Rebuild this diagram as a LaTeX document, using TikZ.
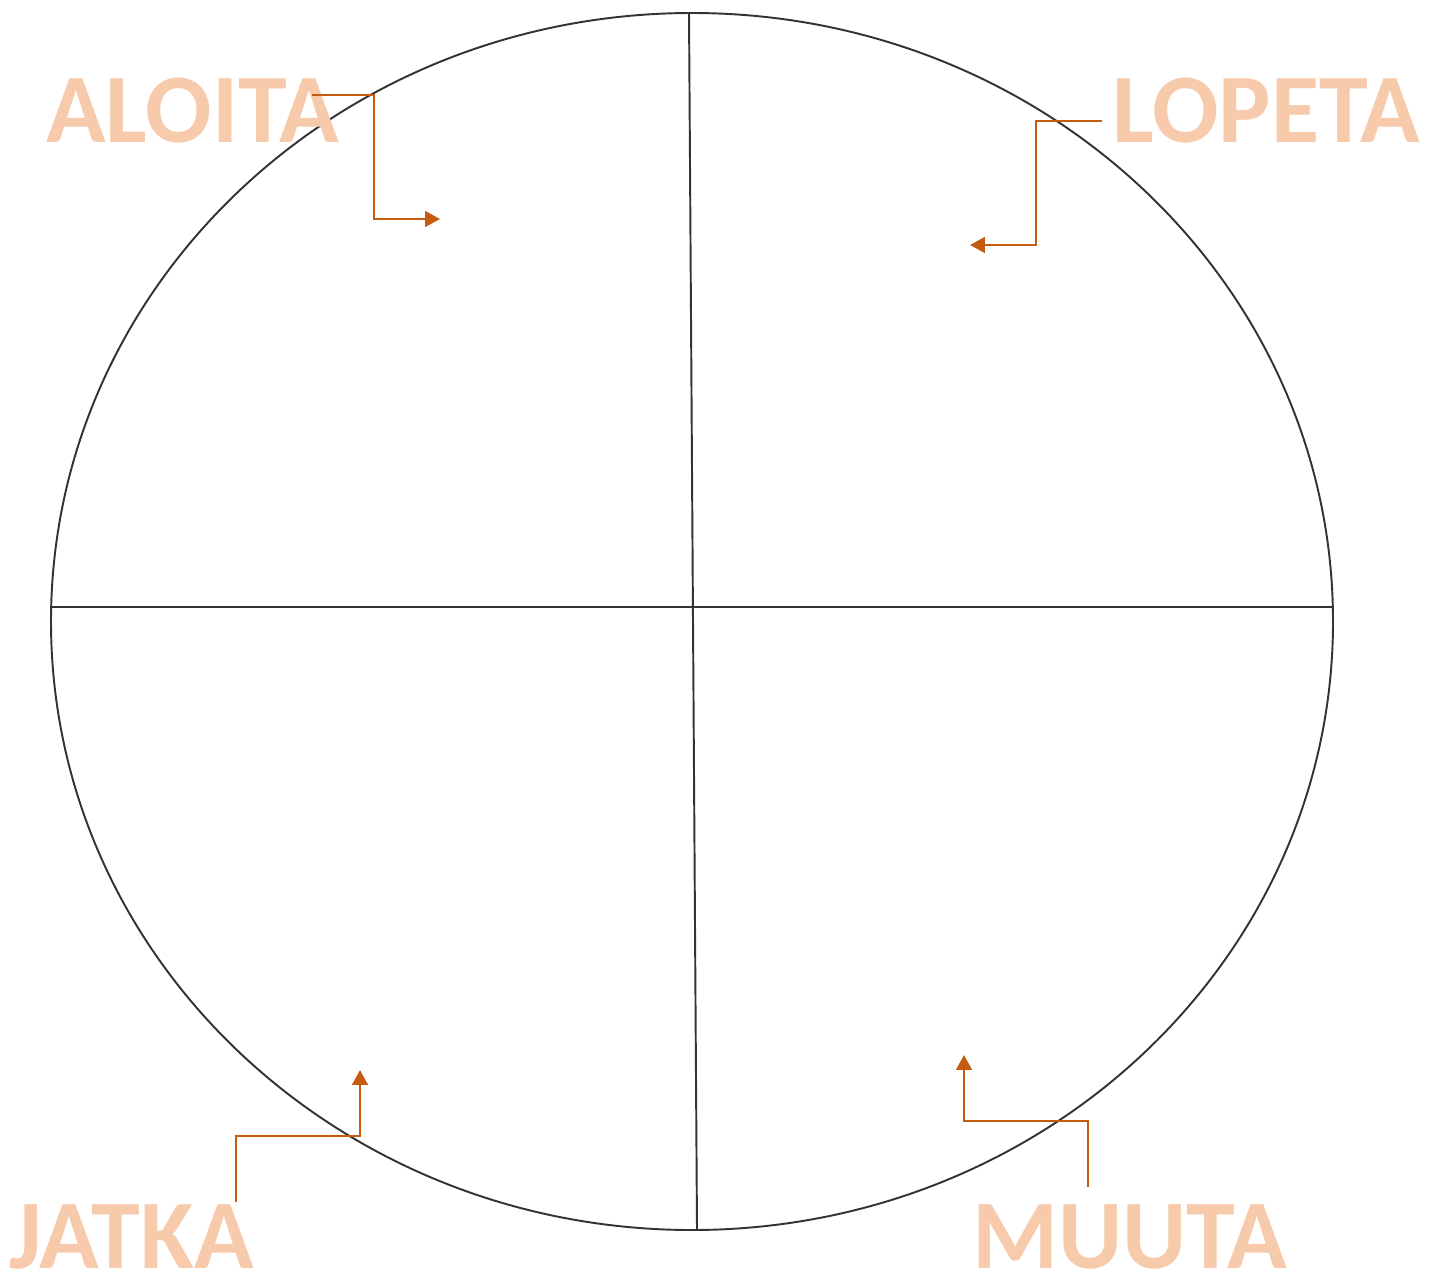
\documentclass[tikz,border=0pt]{standalone}
\usepackage{fontspec}
\setmainfont{Carlito}
\usepackage{xcolor}
\usetikzlibrary{arrows.meta, positioning}
\definecolor{labelorange}{HTML}{F7CAAC}
\definecolor{arroworange}{HTML}{C55A11}
\tikzset{
  phase/.style={inner sep=0pt, anchor=base west, text=labelorange, font=\fontsize{56}{60}\selectfont\bfseries},
  wheel/.style={draw=black!80, line width=1.1pt},
  arrow/.style={draw=arroworange, line width=1.2pt, -{Triangle[length=8.5pt, width=9pt]}}
}
\begin{document}
\begin{tikzpicture}[x=0.02cm, y=-0.02cm]
\useasboundingbox (0,0) rectangle (1439,1275);
% the wheel and its four quarters
\draw[wheel] (692,621.5) ellipse [x radius=641, y radius=608.5];
\coordinate (top) at (689,13);
\coordinate (bottom) at (697,1230);
\coordinate (left) at (51,607);
\coordinate (right) at (1333,607);
\draw[wheel] (top) -- (bottom);
\draw[wheel] (left) -- (right);

% labels
\node[phase] (aloita) at (46,142) {ALOITA};
\node[phase] (lopeta) at (1112,142) {LOPETA};
\node[phase] (jatka) at (9,1268) {JATKA};
\node[phase] (muuta) at (972,1268) {MUUTA};

% arrow ends
\coordinate (aloitaStart) at (312,95);
\coordinate (aloitaEnd) at (440,219);
\coordinate (lopetaStart) at (1102,121);
\coordinate (lopetaEnd) at (970,245);
\coordinate (jatkaStart) at (236,1202);
\coordinate (jatkaEnd) at (360,1070);
\coordinate (muutaStart) at (1088,1187);
\coordinate (muutaEnd) at (964,1055);

\draw[arrow] (aloitaStart) -- (374,95) |- (aloitaEnd);
\draw[arrow] (lopetaStart) -- (1036,121) |- (lopetaEnd);
\draw[arrow] (jatkaStart) |- (360,1136) -- (jatkaEnd);
\draw[arrow] (muutaStart) |- (964,1121) -- (muutaEnd);
\end{tikzpicture}
\end{document}
